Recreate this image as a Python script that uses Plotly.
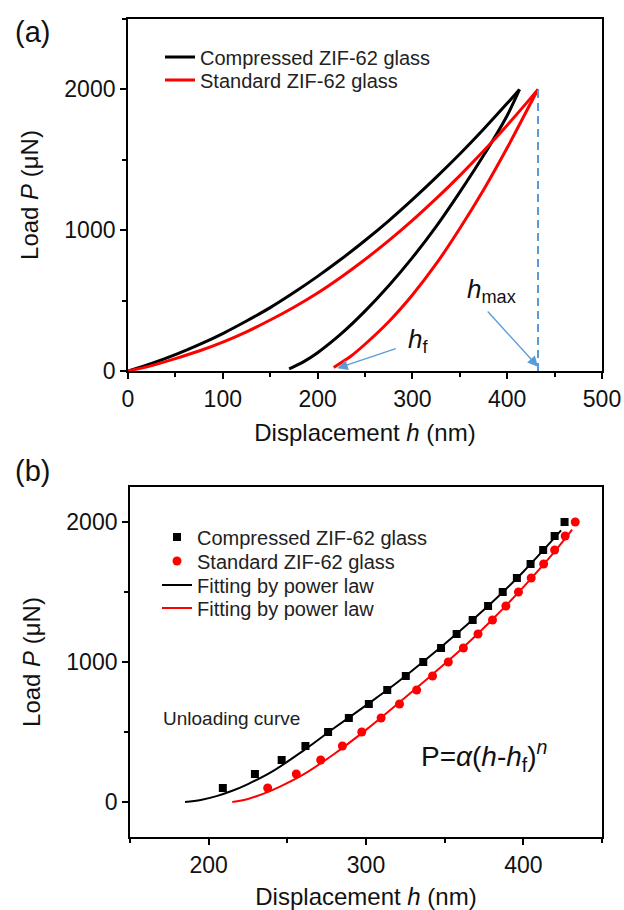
import plotly.graph_objects as go

# ---------------- Panel (a) data ----------------
comp_load_h = [0, 25, 50, 75, 100, 125, 150, 175, 200, 225, 250, 275, 300, 325, 350, 375, 400, 413]
comp_load_P = [0, 54, 116, 187, 266, 355, 450, 557, 672, 795, 927, 1067, 1217, 1375, 1541, 1717, 1901, 2000]
comp_unload_h = [413, 400, 375, 350, 325, 300, 275, 250, 225, 200, 185, 170]
comp_unload_P = [2000, 1815, 1530, 1270, 1025, 805, 605, 425, 265, 130, 65, 15]

std_load_h = [0, 25, 50, 75, 100, 125, 150, 175, 200, 225, 250, 275, 300, 325, 350, 375, 400, 425, 432.5]
std_load_P = [0, 38, 88, 142, 205, 278, 362, 453, 554, 668, 792, 926, 1070, 1224, 1388, 1562, 1746, 1940, 2000]
std_unload_h = [432.5, 425, 400, 375, 350, 325, 300, 275, 250, 235, 225, 217]
std_unload_P = [2000, 1905, 1585, 1285, 1012, 760, 540, 350, 190, 105, 60, 25]

h_max = 432.5
P_max = 2000
h_f = 220.8

# ---------------- Panel (b) data ----------------
comp_pts_P = [100, 200, 300, 400, 500, 600, 700, 800, 900, 1000,
              1100, 1200, 1300, 1400, 1500, 1600, 1700, 1800, 1900, 2000]
comp_pts_h = [209.0, 229.4, 246.4, 261.5, 275.9, 289.1, 301.8, 313.5, 325.3, 336.4,
              347.7, 357.6, 367.8, 377.6, 386.9, 395.9, 404.6, 412.6, 419.9, 426.2]
std_pts_P = [100, 200, 300, 400, 500, 600, 700, 800, 900, 1000,
             1100, 1200, 1300, 1400, 1500, 1600, 1700, 1800, 1900, 2000]
std_pts_h = [237.5, 255.7, 271.2, 285.0, 297.3, 309.6, 321.3, 332.2, 342.3, 352.3,
             361.9, 371.2, 380.4, 388.9, 396.9, 405.0, 412.9, 419.9, 426.6, 433.0]

comp_fit_h = [185, 195, 205, 215, 225, 240, 260, 280, 300, 320, 340, 360, 380, 400, 424]
comp_fit_P = [0, 15, 42, 80, 128, 215, 365, 530, 690, 855, 1035, 1225, 1425, 1645, 1940]
std_fit_h = [215, 225, 235, 245, 260, 280, 300, 320, 340, 360, 380, 400, 420, 431]
std_fit_P = [0, 22, 60, 108, 195, 345, 515, 700, 890, 1085, 1300, 1535, 1790, 1945]

BLACK = "#000000"
RED = "#FF0000"
BLUE = "#5B9BD5"
FONT = "Arial, Liberation Sans, sans-serif"

fig = go.Figure()

# Panel (a)
fig.add_trace(go.Scatter(
    x=comp_load_h, y=comp_load_P, mode="lines",
    line=dict(color=BLACK, width=3, shape="spline", smoothing=0.8),
    name="Compressed ZIF-62 glass", xaxis="x", yaxis="y", legend="legend"))
fig.add_trace(go.Scatter(
    x=comp_unload_h, y=comp_unload_P, mode="lines",
    line=dict(color=BLACK, width=3, shape="spline", smoothing=0.8),
    showlegend=False, xaxis="x", yaxis="y"))
fig.add_trace(go.Scatter(
    x=std_load_h, y=std_load_P, mode="lines",
    line=dict(color=RED, width=3, shape="spline", smoothing=0.8),
    name="Standard ZIF-62 glass", xaxis="x", yaxis="y", legend="legend2"))
fig.add_trace(go.Scatter(
    x=std_unload_h, y=std_unload_P, mode="lines",
    line=dict(color=RED, width=3, shape="spline", smoothing=0.8),
    showlegend=False, xaxis="x", yaxis="y"))
fig.add_trace(go.Scatter(
    x=[h_max, h_max], y=[0, P_max], mode="lines",
    line=dict(color=BLUE, width=2, dash="8px,5px"),
    showlegend=False, xaxis="x", yaxis="y", hoverinfo="skip"))

# Panel (b)
fig.add_trace(go.Scatter(
    x=comp_pts_h, y=comp_pts_P, mode="markers",
    marker=dict(symbol="square", size=8, color=BLACK),
    name="Compressed ZIF-62 glass", xaxis="x2", yaxis="y2", legend="legend3"))
fig.add_trace(go.Scatter(
    x=std_pts_h, y=std_pts_P, mode="markers",
    marker=dict(symbol="circle", size=9, color=RED),
    name="Standard ZIF-62 glass", xaxis="x2", yaxis="y2", legend="legend4"))
fig.add_trace(go.Scatter(
    x=comp_fit_h, y=comp_fit_P, mode="lines", line=dict(color=BLACK, width=2, shape="spline"),
    name="Fitting by power law", xaxis="x2", yaxis="y2", legend="legend5"))
fig.add_trace(go.Scatter(
    x=std_fit_h, y=std_fit_P, mode="lines", line=dict(color=RED, width=2, shape="spline"),
    name="Fitting by power law", xaxis="x2", yaxis="y2", legend="legend6"))

W, H = 624, 910

def leg(text_x, center_y):
    return dict(x=(text_x - 40) / W, y=1 - center_y / H, xanchor="left", yanchor="middle",
                bgcolor="rgba(0,0,0,0)", borderwidth=0,
                font=dict(family=FONT, size=20, color="#222"))

axis_common = dict(showline=True, linecolor="black", linewidth=1.8, mirror=True,
                   ticks="outside", ticklen=6, tickwidth=1.5, tickcolor="black",
                   showgrid=False, zeroline=False,
                   tickfont=dict(family=FONT, size=23, color="#111"),
                   title_font=dict(family=FONT, size=24, color="#111"),
                   automargin=False)
minor = dict(ticks="outside", ticklen=4, tickwidth=1.5, tickcolor="black", showgrid=False)

fig.update_layout(
    width=W, height=H, margin=dict(l=0, r=0, t=0, b=0),
    paper_bgcolor="white", plot_bgcolor="white",
    font=dict(family=FONT, color="#111"),
    xaxis=dict(domain=[128 / W, 602 / W], anchor="y", range=[0, 500], dtick=100, tick0=0,
               minor=dict(dtick=50, **minor),
               title=dict(text="Displacement <i>h</i> (nm)", standoff=14), **axis_common),
    yaxis=dict(domain=[1 - 371 / H, 1 - 19 / H], anchor="x", range=[0, 2500], dtick=1000, tick0=0,
               minor=dict(dtick=500, **minor),
               title=dict(text="Load <i>P</i> (μN)", standoff=19), **axis_common),
    xaxis2=dict(domain=[130 / W, 602 / W], anchor="y2", range=[150, 450], dtick=100, tick0=0,
                minor=dict(dtick=50, **minor),
                title=dict(text="Displacement <i>h</i> (nm)", standoff=16), **axis_common),
    yaxis2=dict(domain=[1 - 837 / H, 1 - 487 / H], anchor="x2", range=[-250, 2250], dtick=1000, tick0=0,
                minor=dict(dtick=500, **minor),
                title=dict(text="Load <i>P</i> (μN)", standoff=19), **axis_common),
    legend=leg(200, 57),
    legend2=leg(200, 80),
    legend3=leg(197, 537),
    legend4=leg(197, 561),
    legend5=leg(197, 585),
    legend6=leg(197, 608),
)

ann = []
ann.append(dict(text="(a)", x=13 / W, y=1 - 32 / H, xref="paper", yref="paper",
                xanchor="left", yanchor="middle", showarrow=False,
                font=dict(family=FONT, size=29, color="#111")))
ann.append(dict(text="(b)", x=13 / W, y=1 - 471 / H, xref="paper", yref="paper",
                xanchor="left", yanchor="middle", showarrow=False,
                font=dict(family=FONT, size=29, color="#111")))
# h_f arrow
ann.append(dict(x=h_f, y=19, ax=284, ay=163, xref="x", yref="y", axref="x", ayref="y",
                text="", showarrow=True, arrowhead=2, arrowsize=1.6, arrowwidth=1.3,
                arrowcolor=BLUE))
ann.append(dict(text="<i>h</i><sub>f</sub>", x=293, y=220, xref="x", yref="y",
                xanchor="left", yanchor="middle", showarrow=False,
                font=dict(family=FONT, size=26, color="#111")))
# h_max arrow
ann.append(dict(x=h_max, y=30, ax=378, ay=433, xref="x", yref="y", axref="x", ayref="y",
                text="", showarrow=True, arrowhead=2, arrowsize=1.6, arrowwidth=1.3,
                arrowcolor=BLUE))
ann.append(dict(text="<i>h</i><sub>max</sub>", x=355, y=575, xref="x", yref="y",
                xanchor="left", yanchor="middle", showarrow=False,
                font=dict(family=FONT, size=26, color="#111")))
# panel b texts
ann.append(dict(text="Unloading curve", x=170, y=600, xref="x2", yref="y2",
                xanchor="left", yanchor="middle", showarrow=False,
                font=dict(family=FONT, size=19, color="#222")))
ann.append(dict(text="P=<i>α</i>(<i>h</i>-<i>h</i><sub>f</sub>)<sup><i>n</i></sup>",
                x=334, y=330, xref="x2", yref="y2",
                xanchor="left", yanchor="middle", showarrow=False,
                font=dict(family=FONT, size=28, color="#111")))
fig.update_layout(annotations=ann)

fig.write_html("out.html")
